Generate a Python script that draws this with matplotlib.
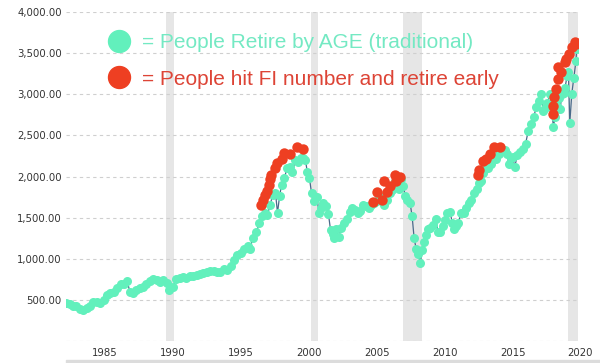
import matplotlib.pyplot as plt
from matplotlib.patches import Rectangle
from matplotlib.ticker import FuncFormatter

# S&P 500 (inflation adjusted)
years = [
    1983.1, 1983.35, 1983.6, 1983.85, 1984.1, 1984.35, 1984.6, 1984.85,
    1985.1, 1985.35, 1985.6, 1985.85, 1986.1, 1986.35, 1986.6, 1986.85,
    1987.1, 1987.35, 1987.6, 1987.8, 1988.0, 1988.25, 1988.5, 1988.75,
    1989.0, 1989.25, 1989.5, 1989.75, 1990.0, 1990.25, 1990.5, 1990.7,
    1990.95, 1991.2, 1991.45, 1991.7, 1991.95, 1992.2, 1992.45, 1992.7,
    1992.95, 1993.2, 1993.45, 1993.7, 1993.95, 1994.2, 1994.45, 1994.7,
    1994.95, 1995.2, 1995.45, 1995.7, 1995.95, 1996.2, 1996.45, 1996.6,
    1996.85, 1997.1, 1997.3, 1997.5, 1997.7, 1997.9, 1998.1, 1998.3,
    1998.5, 1998.65, 1998.8, 1998.95, 1999.15, 1999.35, 1999.55, 1999.75,
    1999.95, 2000.15, 2000.35, 2000.55, 2000.7, 2000.85, 2001.0, 2001.15,
    2001.35, 2001.55, 2001.7, 2001.85, 2002.0, 2002.2, 2002.4, 2002.55,
    2002.7, 2002.8, 2002.95, 2003.15, 2003.35, 2003.55, 2003.75, 2003.95,
    2004.15, 2004.35, 2004.55, 2004.75, 2004.95, 2005.15, 2005.35, 2005.55,
    2005.75, 2005.95, 2006.15, 2006.35, 2006.5, 2006.7, 2006.9, 2007.1,
    2007.3, 2007.45, 2007.6, 2007.75, 2007.9, 2008.05, 2008.2, 2008.4,
    2008.55, 2008.7, 2008.85, 2009.0, 2009.15, 2009.3, 2009.45, 2009.6,
    2009.75, 2009.9, 2010.1, 2010.3, 2010.45, 2010.6, 2010.8, 2010.95,
    2011.15, 2011.35, 2011.5, 2011.65, 2011.8, 2011.95, 2012.15, 2012.35,
    2012.5, 2012.7, 2012.9, 2013.1, 2013.3, 2013.45, 2013.6, 2013.8,
    2013.95, 2014.15, 2014.35, 2014.55, 2014.75, 2014.95, 2015.15, 2015.35,
    2015.55, 2015.65, 2015.8, 2015.95, 2016.1, 2016.3, 2016.5, 2016.7,
    2016.9, 2017.1, 2017.3, 2017.5, 2017.7, 2017.9, 2018.05, 2018.2,
    2018.35, 2018.5, 2018.7, 2018.8, 2018.95, 2019.05, 2019.2, 2019.35,
    2019.45, 2019.55, 2019.7, 2019.8, 2019.95, 2020.05, 2020.15, 2020.3,
    2020.45, 2020.6, 2020.66,
]
values = [
    465, 445, 420, 430, 395, 378, 400, 430,
    470, 480, 462, 500, 560, 580, 590, 650,
    690, 695, 725, 590, 585, 620, 640, 660,
    690, 730, 760, 745, 720, 740, 700, 625,
    660, 760, 770, 780, 770, 790, 795, 805,
    820, 830, 835, 850, 855, 840, 835, 870,
    860, 910, 980, 1040, 1070, 1120, 1150, 1120,
    1250, 1320, 1430, 1520, 1560, 1530, 1650, 1780,
    1800, 1560, 1760, 1900, 1980, 2100, 2120, 2050,
    2200, 2180, 2230, 2220, 2200, 2050, 1980, 1800,
    1700, 1750, 1560, 1620, 1680, 1640, 1540, 1350,
    1300, 1250, 1360, 1270, 1380, 1440, 1480, 1570,
    1620, 1590, 1560, 1580, 1660, 1640, 1620, 1660,
    1680, 1700, 1760, 1730, 1660, 1720, 1800, 1840,
    1950, 1890, 1850, 1970, 1880, 1760, 1720, 1680,
    1520, 1250, 1120, 1060, 950, 1110, 1210, 1290,
    1360, 1380, 1410, 1480, 1330, 1330, 1400, 1470,
    1560, 1570, 1440, 1360, 1400, 1440, 1560, 1560,
    1620, 1680, 1720, 1800, 1850, 1920, 1950, 2040,
    2090, 2100, 2150, 2220, 2210, 2270, 2310, 2320,
    2280, 2150, 2230, 2240, 2120, 2260, 2300, 2340,
    2400, 2560, 2640, 2730, 2850, 2920, 3000, 2800,
    2830, 2900, 3000, 2850, 2600, 2720, 2860, 2960,
    2820, 3000, 3020, 3080, 3220, 3270, 2650, 3010,
    3200, 3400, 3550,
]

# points where people hit their FI number
fi_years = [
    1997.4, 1997.6, 1997.75, 1997.9, 1998.0, 1998.1, 1998.2, 1998.45,
    1998.6, 1999.0, 1999.1, 1999.55, 2000.05, 2000.5,
    2005.66, 2006.0, 2006.3, 2006.5, 2006.7, 2006.9, 2007.3, 2007.4, 2007.65,
    2013.4, 2013.5, 2013.75, 2014.0, 2014.3, 2014.6, 2015.0,
    2018.9, 2018.9, 2019.0, 2019.1, 2019.25, 2019.25, 2019.5, 2019.8,
    2019.9, 2020.1, 2020.3, 2020.5, 2020.6,
]
fi_values = [
    1660, 1720, 1780, 1820, 1900, 1975, 2025, 2100,
    2170, 2210, 2290, 2270, 2355, 2340,
    1685, 1815, 1720, 1940, 1815, 1880, 2025, 1940, 1990,
    2025, 2085, 2185, 2210, 2270, 2365, 2365,
    2755, 2855, 2965, 3060, 3185, 3330, 3270, 3390,
    3425, 3490, 3575, 3635, 3610,
]

# recessions
rec_start = [1990.45, 2001.1, 2007.87, 2020.0]
rec_end = [1991.0, 2001.6, 2009.26, 2020.74]

xtick_years = [1985, 1990, 1995, 2000, 2005, 2010, 2015, 2020]

TEAL = '#62f0bc'
RED = '#ee3f22'

fig = plt.figure(figsize=(6, 3.63), dpi=100)
ax = fig.add_axes([0.11, 0.0606, 0.853, 0.906])

for s, e in zip(rec_start, rec_end):
    ax.axvspan(s, e, color='#e6e6e6', lw=0, zorder=0)

ax.plot(years, values, color='#4a6a8a', lw=0.9, zorder=2)
ax.plot(years, values, 'o', color=TEAL, ms=6.5, mec='none', zorder=3)
ax.plot(fi_years, fi_values, 'o', color=RED, ms=7.5, mec='none', zorder=4)

ax.set_xlim(1983.09, 2020.74)
ax.set_ylim(0, 4000)
ax.set_yticks(range(0, 4001, 500))
ax.yaxis.set_major_formatter(FuncFormatter(lambda v, p: '' if v == 0 else f'{v:,.2f}'))
ax.set_xticks(xtick_years)
ax.set_xticklabels([str(y) for y in xtick_years], ha='left')
ax.grid(axis='y', color='#cfcfcf', lw=0.8, ls=(0, (3, 3)), zorder=1)
ax.set_axisbelow(True)
for sp in ax.spines.values():
    sp.set_visible(False)
ax.tick_params(length=0, labelsize=7.3, labelcolor='#333333')
ax.tick_params(axis='y', pad=3)
ax.tick_params(axis='x', pad=5)

# hand-made legend
ax.scatter([0.198], [0.887], s=250, color=TEAL, transform=fig.transFigure, zorder=5, clip_on=False)
ax.scatter([0.198], [0.788], s=250, color=RED, transform=fig.transFigure, zorder=5, clip_on=False)
fig.text(0.237, 0.883, '= People Retire by AGE (traditional)', color='#74e9c3',
         fontsize=15, family='Liberation Sans', va='center')
fig.text(0.237, 0.782, '= People hit FI number and retire early', color='#dd4436',
         fontsize=15, family='Liberation Sans', va='center')

# scrollbar strip at the bottom
fig.add_artist(Rectangle((0.11, 0), 0.89, 3 / 363, color='#dcdcdc', transform=fig.transFigure))

fig.savefig('out.png', dpi=100)
